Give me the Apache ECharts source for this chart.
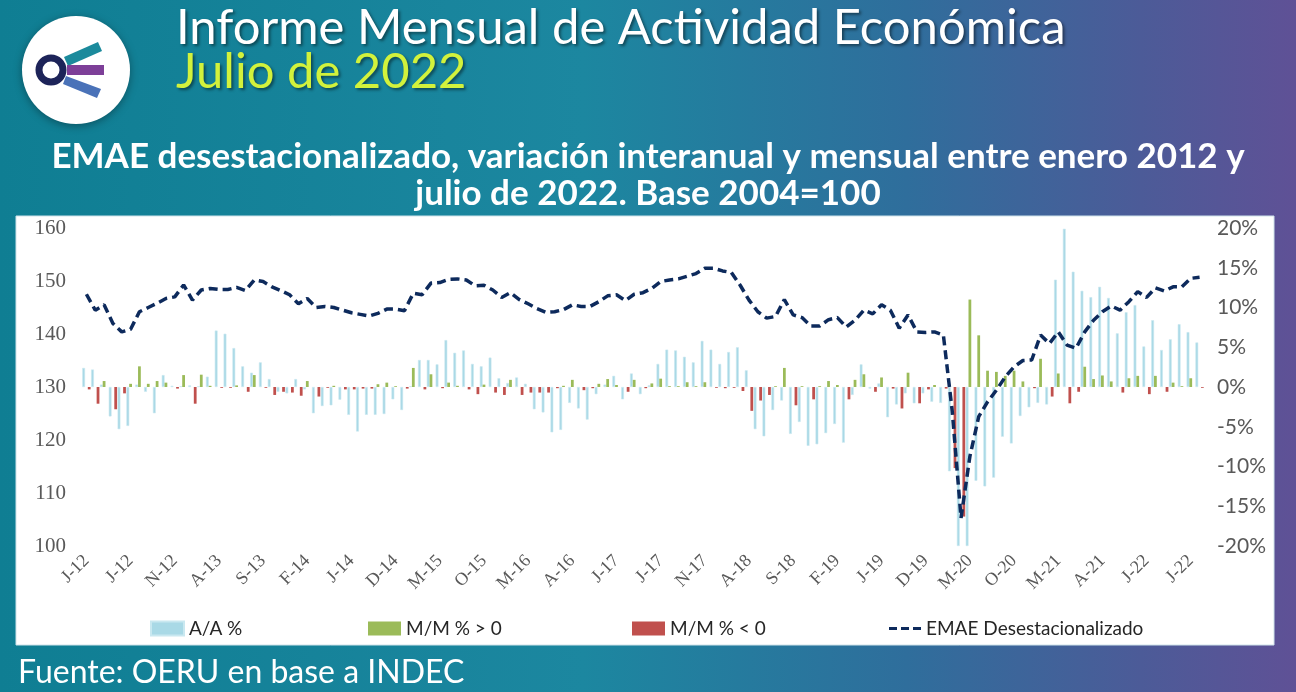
<!DOCTYPE html>
<html><head><meta charset="utf-8">
<script src="https://cdn.jsdelivr.net/npm/echarts@6/dist/echarts.min.js"></script>
<style>html,body{margin:0;padding:0;}#c{width:1296px;height:692px;}</style>
</head><body><div id="c"></div>
<script>
// Categories (monthly, Jan 2012 - Jul 2022)
const months = [
'J-12','F-12','M-12','A-12','M-12','J-12','J-12','A-12','S-12','O-12','N-12','D-12',
'J-13','F-13','M-13','A-13','M-13','J-13','J-13','A-13','S-13','O-13','N-13','D-13',
'J-14','F-14','M-14','A-14','M-14','J-14','J-14','A-14','S-14','O-14','N-14','D-14',
'J-15','F-15','M-15','A-15','M-15','J-15','J-15','A-15','S-15','O-15','N-15','D-15',
'J-16','F-16','M-16','A-16','M-16','J-16','J-16','A-16','S-16','O-16','N-16','D-16',
'J-17','F-17','M-17','A-17','M-17','J-17','J-17','A-17','S-17','O-17','N-17','D-17',
'J-18','F-18','M-18','A-18','M-18','J-18','J-18','A-18','S-18','O-18','N-18','D-18',
'J-19','F-19','M-19','A-19','M-19','J-19','J-19','A-19','S-19','O-19','N-19','D-19',
'J-20','F-20','M-20','A-20','M-20','J-20','J-20','A-20','S-20','O-20','N-20','D-20',
'J-21','F-21','M-21','A-21','M-21','J-21','J-21','A-21','S-21','O-21','N-21','D-21',
'J-22','F-22','M-22','A-22','M-22','J-22','J-22'];

// A/A % (interanual)
const aa = [
2.4,2.2,0.3,-3.7,-5.3,-4.9,0.3,-0.6,-3.3,1.5,0.15,0.1,
0.2,0.1,1.3,7.1,6.7,4.9,2.6,1.8,3.1,1.0,-0.6,-0.8,
1.0,-0.3,-3.3,-2.4,-2.3,-1.6,-3.5,-5.6,-3.5,-3.5,-3.4,-1.55,
-2.9,0.1,3.4,3.4,2.85,5.9,4.3,4.6,2.9,2.6,3.7,1.1,
0.5,1.2,0.4,-2.8,-3.2,-5.7,-5.4,-2.0,-2.7,-4.1,-0.9,0.3,
1.4,-1.55,1.7,-0.9,0.2,2.9,4.7,4.6,3.8,3.1,5.8,4.7,
2.9,4.4,5.0,2.1,-5.3,-6.2,-2.9,-1.7,-5.9,-4.4,-7.4,-7.2,
-5.8,-4.65,-7.0,-1.0,2.85,-0.2,0.45,-3.8,-2.2,-0.8,-2.05,-0.8,
-1.85,-2.0,-10.6,-20.0,-20.0,-11.8,-12.5,-11.4,-6.25,-7.1,-3.65,-2.55,
-2.0,-2.2,13.5,19.9,14.5,12.1,11.3,12.6,11.2,6.75,9.4,10.3,
5.1,8.4,4.65,6.0,7.9,6.9,5.6];

// M/M % (mensual)
const mm = [
-0.3,-2.1,0.75,-2.8,-0.8,0.4,2.6,0.4,0.75,0.55,-0.2,1.5,
-2.1,1.55,0.15,-0.1,-0.1,0.2,-0.6,1.5,-0.1,-1.0,-0.6,-0.7,
-1.1,0.75,-1.2,-0.1,0.15,-0.3,-0.3,-0.2,-0.2,0.35,0.55,0.1,
-0.2,2.4,-0.3,1.6,-0.15,0.55,0.15,-0.3,-0.9,0.3,-0.7,-1.0,
0.9,-1.0,-0.7,-0.7,-0.7,-0.15,0.15,0.9,-0.4,-0.15,0.4,1.0,
0.25,-0.6,0.9,-0.15,0.45,1.05,0.1,0.1,0.6,0.1,0.6,-0.1,
-0.15,-0.1,-0.5,-3.0,-1.7,-1.0,0.1,2.4,-2.3,0.1,-1.55,0.1,
0.75,0.25,-1.55,0.9,1.6,-0.6,1.2,-0.2,-2.7,1.8,-2.05,-0.3,
0.25,-0.2,-10.2,-16.3,11.0,6.5,2.05,1.9,1.4,2.05,0.7,-0.15,
3.55,-1.2,1.7,-2.05,-0.6,2.55,1.0,1.45,0.7,-0.7,1.1,1.4,
-0.9,1.4,-0.6,0.55,0.1,1.1,-0.1];

// EMAE desestacionalizado (2004=100)
const emae = [
147.5,144.5,145.5,142.0,140.4,140.9,144.2,145.0,145.8,146.7,147.0,149.25,
146.4,148.3,148.6,148.4,148.4,148.8,148.2,150.2,149.9,148.9,148.2,147.4,
145.7,146.7,145.0,145.2,145.0,144.5,144.0,143.7,143.4,143.9,144.7,144.7,
144.4,147.7,147.4,149.6,149.7,150.3,150.4,150.2,149.1,149.2,148.3,146.9,
147.8,146.5,145.7,144.8,144.1,144.2,144.6,145.5,145.2,145.2,146.1,147.2,
147.4,146.3,147.5,147.8,148.6,149.9,150.2,150.4,150.9,151.4,152.4,152.4,
151.9,151.6,149.2,146.4,144.2,143.0,143.3,146.5,143.6,143.1,141.5,141.5,
142.7,143.1,141.3,142.6,144.5,143.8,145.5,144.5,141.1,143.6,140.4,140.3,
140.4,139.8,125.5,105.3,116.9,124.4,127.2,129.4,131.9,133.8,135.0,135.1,
139.8,138.2,140.4,137.9,137.3,140.4,142.6,144.2,145.3,144.5,146.1,148.0,
146.9,148.7,148.1,148.9,148.9,150.5,150.7];

const leftTicks = [100, 160, 10];   // min, max, interval
const rightTicks = [-20, 20, 5];

const mmPos = mm.map(v => v > 0 ? v : '-');
const mmNeg = mm.map(v => v < 0 ? v : '-');

const chart = echarts.init(document.getElementById('c'), null, {renderer: 'canvas'});

const legendText = {color: '#262626', fontSize: 19, fontFamily: 'Lato'};
const shadow = {textShadowColor: 'rgba(0,0,0,0.45)', textShadowBlur: 3, textShadowOffsetX: 2, textShadowOffsetY: 2};
const option = {
  backgroundColor: {
    type: 'linear', x: 0, y: 0, x2: 1, y2: 0,
    colorStops: [
      {offset: 0, color: '#0f7e93'},
      {offset: 0.45, color: '#1c87a0'},
      {offset: 0.7, color: '#2f6e9c'},
      {offset: 0.88, color: '#4c5b98'},
      {offset: 1, color: '#5f5196'}
    ]
  },
  animation: false,
  graphic: [
    {type: 'rect', z: -1, shape: {x: 16, y: 216, width: 1258, height: 429},
     style: {fill: '#ffffff', stroke: '#cfe3ea', lineWidth: 1}},
    // logo
    {type: 'circle', shape: {cx: 76, cy: 70, r: 54},
     style: {fill: '#ffffff', shadowBlur: 8, shadowColor: 'rgba(0,0,0,0.35)', shadowOffsetY: 2}},
    {type: 'polygon', shape: {points: [[64, 57], [98, 42], [102, 51], [68, 66]]}, style: {fill: '#1b8a9c'}},
    {type: 'polygon', shape: {points: [[67, 65], [104, 65], [104, 75], [67, 75]]}, style: {fill: '#7d3f98'}},
    {type: 'polygon', shape: {points: [[66, 76], [101, 89], [97, 98], [63, 84]]}, style: {fill: '#4a72b8'}},
    {type: 'circle', shape: {cx: 51, cy: 70, r: 12},
     style: {fill: '#ffffff', stroke: '#1d2459', lineWidth: 7}},
    // titles
    {type: 'text', x: 176, y: 4, style: Object.assign({text: 'Informe Mensual de Actividad Económica',
      fill: '#ffffff', fontFamily: 'Lato', fontWeight: 'normal', fontSize: 49}, shadow)},
    {type: 'text', x: 176, y: 48, style: Object.assign({text: 'Julio de 2022',
      fill: '#d2f23c', fontFamily: 'Lato', fontWeight: 'normal', fontSize: 49}, shadow)},
    {type: 'text', x: 648, y: 139, style: {text: 'EMAE desestacionalizado, variación interanual y mensual entre enero 2012 y',
      fill: '#ffffff', fontFamily: 'Lato', fontWeight: 'bold', fontSize: 35, align: 'center'}},
    {type: 'text', x: 648, y: 176, style: {text: 'julio de 2022. Base 2004=100',
      fill: '#ffffff', fontFamily: 'Lato', fontWeight: 'bold', fontSize: 35, align: 'center'}},
    {type: 'text', x: 18, y: 657, style: {text: 'Fuente: OERU en base a INDEC',
      fill: '#ffffff', fontFamily: 'Lato', fontWeight: 'normal', fontSize: 32}}
  ],
  grid: {left: 82, right: 92, top: 228, bottom: 146, containLabel: false},
  legend: [
    {data: ['A/A %'], left: 145, top: 614, itemWidth: 33, itemHeight: 14, itemGap: 6, textStyle: legendText, icon: 'rect'},
    {data: ['M/M % > 0'], left: 363, top: 614, itemWidth: 33, itemHeight: 14, textStyle: legendText, icon: 'rect'},
    {data: ['M/M % < 0'], left: 627, top: 614, itemWidth: 33, itemHeight: 14, textStyle: legendText, icon: 'rect'},
    {data: [{name: 'EMAE Desestacionalizado', icon: 'path://M0,0h8v3h-8zM12,0h8v3h-8zM24,0h8v3h-8z'}],
     left: 884, top: 614, itemWidth: 32, itemHeight: 4, textStyle: legendText}
  ],
  xAxis: {
    type: 'category', data: months, boundaryGap: true,
    axisLine: {show: false}, axisTick: {show: false},
    axisLabel: {interval: 4, rotate: 45, margin: 12, color: '#595959', fontFamily: 'Liberation Serif', fontSize: 18}
  },
  yAxis: [
    {type: 'value', min: leftTicks[0], max: leftTicks[1], interval: leftTicks[2],
     axisLine: {show: false}, axisTick: {show: false}, splitLine: {show: false},
     axisLabel: {color: '#595959', fontFamily: 'Liberation Serif', fontSize: 21, margin: 16}},
    {type: 'value', min: rightTicks[0], max: rightTicks[1], interval: rightTicks[2],
     axisLine: {show: false}, axisTick: {show: false}, splitLine: {show: false},
     axisLabel: {color: '#595959', fontFamily: 'Lato', fontSize: 21, margin: 13, formatter: '{value}%'}}
  ],
  series: [
    {name: 'A/A %', type: 'bar', yAxisIndex: 1, data: aa, barGap: '0%', barCategoryGap: '6%',
     itemStyle: {color: '#a9d9e6', borderColor: '#c9e8f0', borderWidth: 0.6}},
    {name: 'M/M % > 0', type: 'bar', yAxisIndex: 1, data: mmPos, barGap: '0%', barCategoryGap: '6%',
     itemStyle: {color: '#9bbb59'}},
    {name: 'M/M % < 0', type: 'bar', yAxisIndex: 1, data: mmNeg, barGap: '0%', barCategoryGap: '6%',
     itemStyle: {color: '#c0504d'}},
    {name: 'EMAE Desestacionalizado', type: 'line', yAxisIndex: 0, data: emae, z: 5,
     showSymbol: false, symbol: 'none', smooth: false,
     lineStyle: {color: '#0d2a5c', width: 3.5, type: [9, 5]}, itemStyle: {color: '#0d2a5c'}}
  ]
};
chart.setOption(option);
</script></body></html>
